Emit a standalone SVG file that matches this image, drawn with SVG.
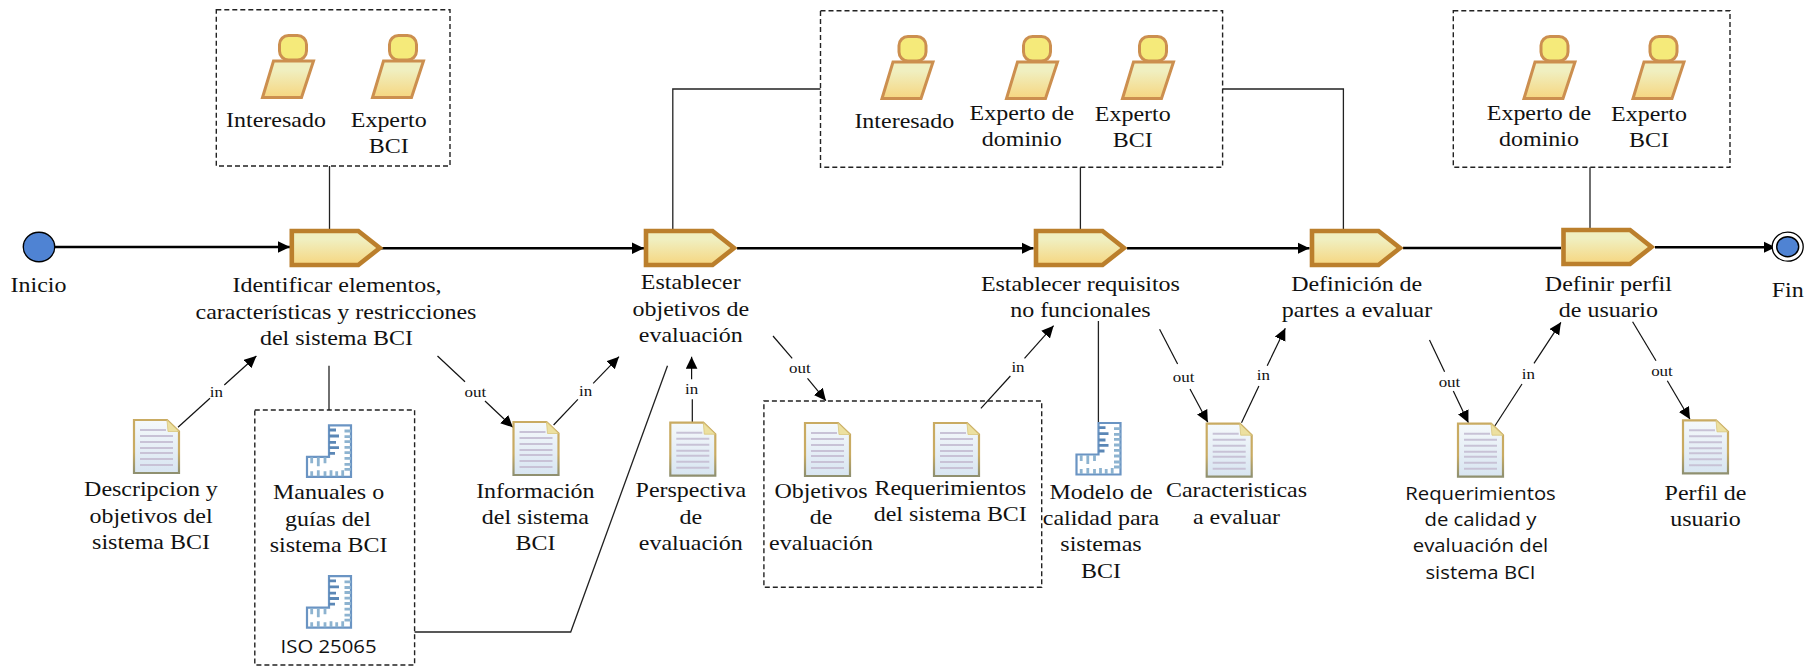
<svg xmlns="http://www.w3.org/2000/svg" xmlns:xlink="http://www.w3.org/1999/xlink" width="1812" height="668" viewBox="0 0 1812 668">
<style>
text{font-family:"Liberation Serif","Times New Roman",serif;font-size:22px;fill:#111;text-anchor:middle;transform-box:fill-box;transform-origin:center;transform:scaleX(1.09)}
text.e{font-size:15px;transform:scaleX(1.13)}
text.s{font-family:"Open Sans","Noto Sans",sans-serif;font-size:19px;transform:scaleX(1.07)}
.box{fill:none;stroke:#222;stroke-width:1.4;stroke-dasharray:5 3}
.flow{fill:none;stroke:#000;stroke-width:2.6}
.assoc{fill:none;stroke:#222;stroke-width:1.3}
.io{fill:none;stroke:#111;stroke-width:1.2}
.arrow{marker-end:url(#ah)}
.ev{fill:#4f83d3;stroke:#000;stroke-width:1.4}
</style>
<defs>
<linearGradient id="gt" x1="0" y1="0" x2="0" y2="1"><stop offset="0.25" stop-color="#f0efc0"/><stop offset="1" stop-color="#f6d680"/></linearGradient>
<linearGradient id="gd" x1="0" y1="0" x2="0" y2="1"><stop offset="0" stop-color="#f5f9fb"/><stop offset="1" stop-color="#d8e5f1"/></linearGradient>
<linearGradient id="gb" x1="0" y1="0" x2="0" y2="1"><stop offset="0.6" stop-color="#c9ab62"/><stop offset="1" stop-color="#8f9070"/></linearGradient>
<marker id="ah" markerUnits="userSpaceOnUse" markerWidth="14" markerHeight="14" refX="12" refY="6" orient="auto"><path d="M0 0.2L12 6L0 11.8Z" fill="#000"/></marker>
<path id="task" d="M2.5 2H69L90.5 19L69 36H2.5Z" fill="url(#gt)" stroke="#bb7f2c" stroke-width="4.6"/>
<g id="person">
<polygon points="12.5,27 52.5,27 40.5,63.5 1.5,63.5" fill="url(#gt)" stroke="#cc8f4f" stroke-width="3"/>
<rect x="18.5" y="1.5" width="27" height="24.5" rx="9" fill="#f5ea7a" stroke="#cc8f4f" stroke-width="3"/>
</g>
<g id="doc">
<path d="M1 1H34L46 12.5V54H1Z" fill="url(#gd)" stroke="url(#gb)" stroke-width="2.2"/>
<path d="M34 1L46 12.5H35Z" fill="#ece0a0" stroke="#d9c67c" stroke-width="0.8"/>
<path d="M7 11H33M7 17H40M7 23H40M7 29H40M7 34H40M7 40H40M7 46H40" stroke="#c8c2d6" stroke-width="2" fill="none"/>
</g>
<g id="ruler">
<path d="M23 1H45V52.5H1V32.5H23Z" fill="#fff" stroke="#6a94c3" stroke-width="2.2"/>
<path d="M23 5.7H30M23 11.7H33M23 18H30M23 23.3H33M23 29H29" stroke="#5b87b6" stroke-width="2.8" fill="none"/>
<path d="M38.5 6.7H45M38.5 12.3H45M38.5 17.3H45M38.5 23H45M38.5 28.3H45M38.5 34H45M38.5 40H45M38.5 45H45" stroke="#8db3d0" stroke-width="2.8" fill="none"/>
<path d="M5.7 47V52M12.3 46V52M19 47V52M25 46V52M30.7 47V52M36.7 46V52M5.7 33V39M12.3 33V42M19 33V39" stroke="#8db3d0" stroke-width="2.8" fill="none"/>
</g>
</defs>
<rect width="1812" height="668" fill="#fff"/>
<g id="connectors">
<path class="flow arrow" d="M54 247H290"/>
<path class="flow arrow" d="M381 248.3H644"/>
<path class="flow arrow" d="M737 248.3H1033.5"/>
<path class="flow arrow" d="M1127 248.3H1309.5"/>
<path class="flow" d="M1403 248H1561"/>
<path class="flow arrow" d="M1655 247.3H1775.5"/>
<path class="assoc" d="M329.5 166V230"/>
<path class="assoc" d="M329 365.7V410"/>
<path class="assoc" d="M820.5 89H672.8V229"/>
<path class="assoc" d="M1222.6 89H1343.4V230"/>
<path class="assoc" d="M1080.4 167.3V229"/>
<path class="assoc" d="M1590 167.3V229"/>
<path class="assoc" d="M414.6 632H570.7L667.5 365.7"/>
<path class="assoc" d="M1098.4 321V422"/>
<path class="io" d="M178 427.3L210 398.3"/><path class="io arrow" d="M224.3 385L256.4 356"/>
<path class="io" d="M437.5 356L465 381.7"/><path class="io arrow" d="M485 401L512.9 427.3"/>
<path class="io" d="M553.6 425L577.9 399.3"/><path class="io arrow" d="M593.2 383.3L619 356.7"/>
<path class="io" d="M692.3 422.3V399.3"/><path class="io arrow" d="M691.6 379.3V356.7"/>
<path class="io" d="M773 336L792.2 358.3"/><path class="io arrow" d="M807.5 378.3L825.9 400.7"/>
<path class="io" d="M980.9 408.3L1010.4 376"/><path class="io arrow" d="M1024.5 358.3L1053.6 325.7"/>
<path class="io" d="M1159.6 329.3L1177.6 364"/><path class="io arrow" d="M1190 389L1207.8 422.3"/>
<path class="io" d="M1241.5 422.7L1258.9 386"/><path class="io arrow" d="M1267.2 365.7L1285.3 328.3"/>
<path class="io" d="M1429.5 340L1444.6 371.7"/><path class="io arrow" d="M1453.3 391L1468.4 422.7"/>
<path class="io" d="M1494.8 426L1522 384"/><path class="io arrow" d="M1534 363.3L1560.9 322.3"/>
<path class="io" d="M1632.6 321.7L1656 360.7"/><path class="io arrow" d="M1667.3 380.7L1690 419.3"/>
<text class="e" x="216.4" y="396.7">in</text>
<text class="e" x="475.4" y="396.7">out</text>
<text class="e" x="585.7" y="395.7">in</text>
<text class="e" x="691.6" y="394">in</text>
<text class="e" x="800" y="372.7">out</text>
<text class="e" x="1018" y="371.7">in</text>
<text class="e" x="1183.7" y="381.7">out</text>
<text class="e" x="1263.4" y="380">in</text>
<text class="e" x="1449.5" y="386.7">out</text>
<text class="e" x="1528.4" y="379">in</text>
<text class="e" x="1662" y="375.7">out</text>
</g>
<g id="start"><ellipse class="ev" cx="39" cy="247" rx="15.7" ry="14.7"/><text x="38.5" y="292">Inicio</text></g>
<g id="end"><ellipse cx="1787.7" cy="246.7" rx="15.5" ry="14.5" fill="#fff" stroke="#000" stroke-width="1.3"/><ellipse class="ev" cx="1787.7" cy="246.7" rx="11" ry="10"/><text x="1787.8" y="296.7">Fin</text></g>
<g id="task1"><use xlink:href="#task" href="#task" x="289.3" y="229"/><text x="337" y="292.5">Identificar elementos,</text><text x="336" y="319">características y restricciones</text><text x="336.5" y="345">del sistema BCI</text></g>
<g id="task2"><use xlink:href="#task" href="#task" x="643.5" y="229"/><text x="690.8" y="289">Establecer</text><text x="690.8" y="315.7">objetivos de</text><text x="690.8" y="342">evaluación</text></g>
<g id="task3"><use xlink:href="#task" href="#task" x="1033.5" y="229"/><text x="1080.4" y="291">Establecer requisitos</text><text x="1080.4" y="316.7">no funcionales</text></g>
<g id="task4"><use xlink:href="#task" href="#task" x="1309.5" y="229"/><text x="1356.7" y="291">Definición de</text><text x="1357" y="316.7">partes a evaluar</text></g>
<g id="task5"><use xlink:href="#task" href="#task" x="1561" y="228"/><text x="1608.4" y="291">Definir perfil</text><text x="1608.4" y="316.7">de usuario</text></g>
<g id="actors1"><rect class="box" x="216.3" y="9.7" width="233.7" height="156.3"/>
<use xlink:href="#person" href="#person" x="261" y="34"/><use xlink:href="#person" href="#person" x="371" y="34"/>
<text x="276" y="127">Interesado</text><text x="388.7" y="126.7">Experto</text><text x="388.7" y="152.7">BCI</text></g>
<g id="actors2"><rect class="box" x="820.5" y="10.7" width="402.1" height="156.6"/>
<use xlink:href="#person" href="#person" x="880.5" y="35"/><use xlink:href="#person" href="#person" x="1005" y="35"/><use xlink:href="#person" href="#person" x="1121" y="35"/>
<text x="904.3" y="128.3">Interesado</text><text x="1021.8" y="120">Experto de</text><text x="1021.8" y="146">dominio</text><text x="1132.8" y="121">Experto</text><text x="1132.8" y="147">BCI</text></g>
<g id="actors3"><rect class="box" x="1453.3" y="10.7" width="276.7" height="156.6"/>
<use xlink:href="#person" href="#person" x="1522.5" y="35"/><use xlink:href="#person" href="#person" x="1631.5" y="35"/>
<text x="1539" y="120">Experto de</text><text x="1539" y="146">dominio</text><text x="1649" y="121">Experto</text><text x="1649" y="147">BCI</text></g>
<g id="doc-descripcion"><use xlink:href="#doc" href="#doc" x="133" y="419"/><text x="151" y="496">Descripcion y</text><text x="151" y="522.7">objetivos del</text><text x="151" y="549">sistema BCI</text></g>
<g id="refs"><rect class="box" x="254.8" y="410" width="159.8" height="255"/>
<use xlink:href="#ruler" href="#ruler" x="306" y="424.3"/><text x="328.6" y="498.7">Manuales o</text><text x="328" y="525.7">guías del</text><text x="328.6" y="551.7">sistema BCI</text>
<use xlink:href="#ruler" href="#ruler" x="306" y="575.2"/><text class="s" x="328.6" y="652.7">ISO 25065</text></g>
<g id="doc-informacion"><use xlink:href="#doc" href="#doc" x="512.5" y="421"/><text x="535.4" y="497.7">Información</text><text x="535.4" y="524">del sistema</text><text x="535.4" y="550.3">BCI</text></g>
<g id="doc-perspectiva"><use xlink:href="#doc" href="#doc" x="669.3" y="421.7"/><text x="690.8" y="496.7">Perspectiva</text><text x="690.8" y="524">de</text><text x="690.8" y="549.7">evaluación</text></g>
<g id="outputs2"><rect class="box" x="763.9" y="401" width="277.8" height="186.3"/>
<use xlink:href="#doc" href="#doc" x="804" y="422"/><text x="821" y="497.7">Objetivos</text><text x="821" y="524.5">de</text><text x="821" y="549.7">evaluación</text>
<use xlink:href="#doc" href="#doc" x="933" y="422"/><text x="950.3" y="495">Requerimientos</text><text x="950.3" y="521">del sistema BCI</text></g>
<g id="ruler-modelo"><use xlink:href="#ruler" href="#ruler" x="1075.5" y="422"/><text x="1101" y="498.7">Modelo de</text><text x="1101" y="525">calidad para</text><text x="1101" y="551">sistemas</text><text x="1101" y="577.7">BCI</text></g>
<g id="doc-caracteristicas"><use xlink:href="#doc" href="#doc" x="1205.7" y="422.7"/><text x="1236.5" y="497.3">Caracteristicas</text><text x="1236.5" y="524">a evaluar</text></g>
<g id="doc-requerimientos"><use xlink:href="#doc" href="#doc" x="1457" y="422.7"/><text class="s" x="1480.5" y="500">Requerimientos</text><text class="s" x="1480.5" y="526">de calidad y</text><text class="s" x="1480.5" y="552">evaluación del</text><text class="s" x="1480.5" y="578.7">sistema BCI</text></g>
<g id="doc-perfil"><use xlink:href="#doc" href="#doc" x="1682" y="419.3"/><text x="1705.5" y="500">Perfil de</text><text x="1705.5" y="526">usuario</text></g>
</svg>
